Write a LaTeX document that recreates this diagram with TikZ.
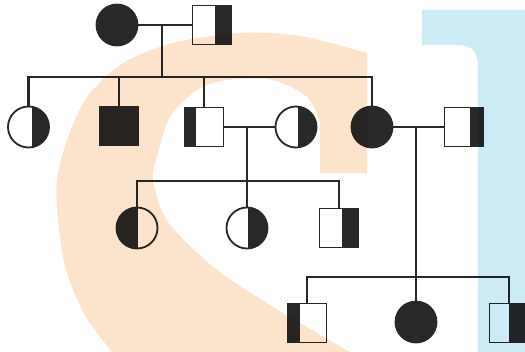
\documentclass[tikz,border=0pt]{standalone}
\usepackage{tikz}
\usetikzlibrary{positioning}
\definecolor{ink}{RGB}{40,40,40}
\definecolor{wmorange}{RGB}{251,227,204}
\definecolor{wmcyan}{RGB}{205,235,245}
\tikzstyle{female} = [circle, draw=ink, line width=0.9mm, minimum size=20.5mm, inner sep=0pt]
\tikzstyle{male} = [rectangle, draw=ink, line width=0.9mm, minimum size=19.5mm, inner sep=0pt]
\tikzstyle{affected} = [fill=ink]
\tikzstyle{link} = [line width=1.1mm, draw=ink]
\tikzset{
  carrierR/.style={path picture={\fill[ink] ([xshift=-#1]path picture bounding box.north east) rectangle (path picture bounding box.south east);}},
  carrierL/.style={path picture={\fill[ink] (path picture bounding box.north west) rectangle ([xshift=#1]path picture bounding box.south west);}}
}

\begin{document}
\begin{tikzpicture}[x=0.5mm, y=-0.5mm]
\useasboundingbox (0,0) rectangle (525,352);
% Generation I
\node (gm) [female, affected] at (117,25) {};
\node (gf) [male, carrierR=8.5mm] at (212,25) {};
\coordinate (m1) at (162,25);
\coordinate (sib1) at (162,77);

% Generation II
\node (d1) [female, carrierR=8.5mm] at (28.5,127) {};
\node (s1) [male, affected] at (119,126) {};
\node (s2) [male, carrierL=5.5mm] at (204,127) {};
\node (w2) [female, carrierR=9.5mm] at (296,127) {};
\node (d2) [female, affected] at (372,127) {};
\node (h2) [male, carrierR=7mm] at (464,127) {};
\coordinate (m2) at (247,127);
\coordinate (sib2) at (247,181);
\coordinate (m3) at (416,127);
\coordinate (sib3) at (416,277);

% Generation III
\node (g1) [female, carrierL=10.5mm] at (137,228) {};
\node (g2) [female, carrierR=10mm] at (247,228) {};
\node (g3) [male, carrierR=8.5mm] at (339,228) {};
\node (k1) [male, carrierL=6mm] at (307,323) {};
\node (k2) [female, affected] at (416,322) {};
\node (k3) [male, carrierR=10mm] at (509,323) {};

% Matings and descent
\draw[link] (gm) -- (gf);
\draw[link] (m1) -- (sib1);
\draw[link] (s2) -- (w2);
\draw[link] (m2) -- (sib2);
\draw[link] (d2) -- (h2);
\draw[link] (m3) -- (sib3);

% Sibships
\draw[link] (sib1) -| (d1);
\draw[link] (sib1) -| (s1);
\draw[link] (sib1) -| (s2);
\draw[link] (sib1) -| (d2);
\draw[link] (sib2) -| (g1);
\draw[link] (sib2) -- (g2);
\draw[link] (sib2) -| (g3);
\draw[link] (sib3) -| (k1);
\draw[link] (sib3) -- (k2);
\draw[link] (sib3) -| (k3);

% Watermark
\begin{scope}[blend mode=multiply]
\fill[wmorange] plot[smooth] coordinates {(367,53) (300,36) (240,33) (173,43) (123,63) (87,97) (67,140) (57,180) (58,220) (66,270) (85,315) (112,352)}
  -- (350,352) -- plot[smooth] coordinates {(350,352) (283,313) (217,270) (168,222) (153,180) (157,157) (170,117) (197,90) (227,80) (273,80) (307,97) (320,122)}
  -- (320,173) -- (367,173) -- cycle;
\fill[wmcyan] (422,10) -- (525,10) -- (525,352) -- (478,352) -- (478,68) .. controls (478,50) and (472,45) .. (455,45) -- (422,45) -- cycle;
\end{scope}
\end{tikzpicture}
\end{document}
